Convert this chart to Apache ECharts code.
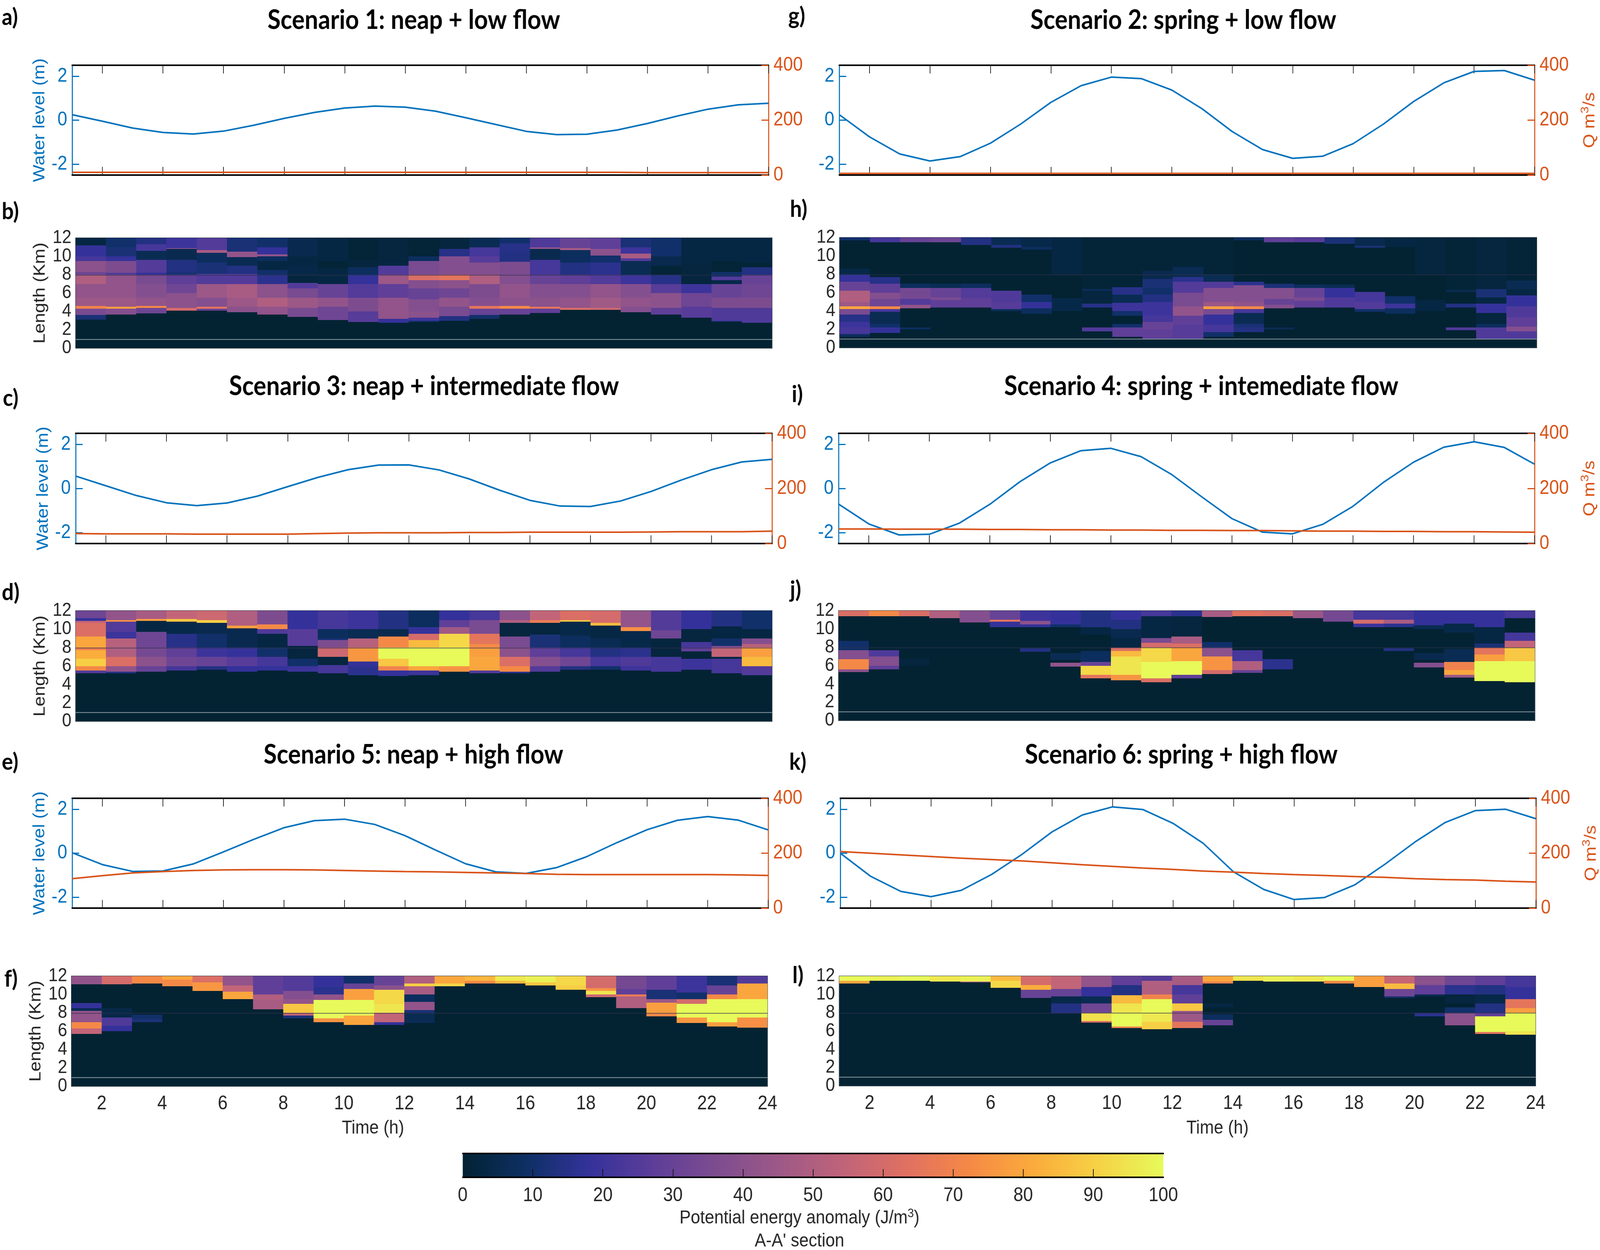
<!DOCTYPE html>
<html>
<head>
<meta charset="utf-8">
<style>
html, body { margin: 0; padding: 0; background: #fff; overflow: hidden; }
#chart { width: 4547px; height: 3199px; transform-origin: 0 0; }
</style>
<script src="https://cdn.jsdelivr.net/npm/echarts@6/dist/echarts.min.js"></script>
</head>
<body>
<div id="chart"></div>
<script>
const hours = [1,2,3,4,5,6,7,8,9,10,11,12,13,14,15,16,17,18,19,20,21,22,23,24];
const hourTicks = [2,4,6,8,10,12,14,16,18,20,22,24];
const levelTicks = [-2,0,2];
// 47 px per 2 km is tighter than echarts' overlap check allows, so two axes carry every other label
const kmTicksA = [0,4,8,12];
const kmTicksB = [2,6,10];
const cbarTicks = [10,20,30,40,50,60,70,80,90];
const thermal = ['#032333','#0d3064','#35329b','#5d3e99','#7e4d8f','#9e5987','#c16479','#e17161','#f68b45','#fbad3c','#f6d346','#e7fa5a'];

// water level (m) per hour
const level1 = [.25,-.05,-.36,-.56,-.63,-.5,-.23,.08,.35,.55,.64,.59,.41,.11,-.2,-.51,-.66,-.64,-.45,-.15,.19,.5,.7,.77];
const level2 = [.25,-.76,-1.54,-1.86,-1.66,-1.05,-.18,.81,1.57,1.96,1.89,1.37,.52,-.52,-1.34,-1.74,-1.64,-1.07,-.18,.85,1.7,2.22,2.26,1.82];
const level3 = [.56,.12,-.32,-.65,-.78,-.66,-.35,.08,.5,.85,1.06,1.07,.84,.43,-.08,-.54,-.8,-.82,-.57,-.14,.38,.85,1.2,1.32];
const level4 = [-.71,-1.61,-2.11,-2.08,-1.57,-.72,.31,1.16,1.71,1.82,1.44,.64,-.38,-1.37,-1.98,-2.06,-1.63,-.81,.27,1.19,1.87,2.12,1.86,1.1];
const level5 = [.02,-.52,-.83,-.81,-.49,.06,.63,1.16,1.48,1.55,1.31,.8,.15,-.48,-.85,-.92,-.66,-.16,.48,1.07,1.5,1.67,1.51,1.06];
const level6 = [0,-1.05,-1.74,-1.98,-1.69,-.97,-.06,.97,1.74,2.11,1.99,1.36,.45,-.85,-1.65,-2.11,-2.02,-1.45,-.51,.51,1.4,1.94,2,1.57];

// river discharge (m3/s) per hour
const flow1 = [10,10,10,10,10,10,10,10,10,10,10,10,10,10,10,10,10,10,10,9,9,9,9,9];
const flow2 = [6,6,6,6,6,6,6,6,6,6,6,6,6,6,6,6,6,6,6,6,6,6,6,6];
const flow3 = [36,35,35,35,34,34,34,34,36,38,39,39,39,40,40,41,41,41,41,42,43,43,43,45];
const flow4 = [53,53,52,52,52,51,51,50,50,49,49,48,48,47,47,46,45,45,44,44,43,43,42,41];
const flow5 = [107,118,128,133,137,139,140,140,139,137,135,133,132,130,128,126,123,122,122,122,122,122,121,119];
const flow6 = [206,200,194,188,182,177,172,165,158,152,146,141,135,131,126,122,119,115,112,107,104,102,98,95];

// potential energy anomaly, one list per hour column, read from 12 km downwards:
// [lower km of band, value, lower km of band, value, ...]
const pe1 = [
  [11.2,3,10,18,9.5,22,8.3,40,8,32,7,50,5.5,42,4.6,45,4.3,70,3.6,35,3.1,12],
  [11,10,10,12,9.5,18,8.2,36,8,25,7,42,5.5,42,4.5,45,4.3,78,3.65,38],
  [11.3,14,10.6,22,9.6,6,8.2,25,8,18,7,35,5.5,38,4.6,42,4.4,72,3.8,32],
  [10.9,20,10.8,40,9.6,5,8.3,14,8,12,7,28,6,32,5,40,4.4,40,4.1,60],
  [10.7,25,10.4,48,9.3,8,8.1,12,7,25,5.5,45,4.5,38,4.3,65,4.1,30],
  [10.5,12,9.9,42,9,6,8.1,14,7,25,5.5,48,4.5,45,3.9,40],
  [11,10,10.2,18,10,42,9.5,8,8.5,3,8,10,7,16,5.5,40,4.5,50,3.65,42],
  [10,5,9,3,8,4,7.1,2,6.5,25,5.5,35,4.4,45,3.4,35],
  [9.5,3,8.7,1,7,3,5.5,30,4.5,42,3.05,32],
  [9.6,1,8.8,2,8,8,7,18,5.5,25,4,36,2.85,26],
  [9.3,2,9,3,8,25,7,45,5.5,28,4.4,42,3.2,42,2.75,18],
  [10,1,9.5,8,8,35,7.4,62,6.5,38,5.3,30,4,38,3.3,40,3,20,2.85,10],
  [10.8,2,10,15,8,38,7.4,65,6.5,40,5.5,32,4.5,42,3.5,35,3,14],
  [11,6,10,22,9.3,26,8,38,7,50,5.5,36,4.6,38,4.3,65,3.6,30,3.2,10],
  [11.4,10,10.5,15,9.4,14,8,36,7,38,5.5,42,4.6,40,4.3,72,3.65,30],
  [11,24,10.8,42,9.6,5,8,22,7,30,5.5,38,4.5,40,4.3,65,3.85,28],
  [10.9,30,10.7,48,9.3,8,8,14,7,28,5.5,38,4.4,42,4.15,62],
  [10.8,28,10.1,40,9.3,10,8,16,7,25,5.5,42,4.4,46,4.15,58],
  [11,12,10.3,20,9.8,48,9.5,25,8,6,7,20,5.5,38,4.5,42,3.9,38],
  [10,10,9,5,8,1,7,15,6,26,4.4,40,3.65,28],
  [9.2,3,7,2,6,20,4.5,32,3.3,26],
  [9.5,3,8.3,1,7.8,10,7.4,25,7,4,5.5,30,4.4,36,3,24,2.9,15],
  [9.3,3,8.8,1,8,14,7,30,5.5,32,4.4,36,2.75,24]
];
const pe2 = [
  [11.7,10,8.6,0,8,4,7.2,18,6.2,30,5,50,4.5,45,4.2,80,3.6,35,2.8,15,2.2,20,1.5,22,1.2,8],
  [11.5,22,7.7,0,7,15,6,28,5.3,38,4.5,32,4.2,72,3.9,22,2.6,6,2.2,10,1.6,18],
  [11.5,30,7,0,6.5,8,5.3,34,4.7,25,4.3,42,2.2,0,2,8],
  [11.5,32,7,0,6.5,6,5.5,30,5.2,35,4.4,28],
  [11.2,14,7,0,6.5,8,5.4,25,4.4,28],
  [11.2,6,10.9,14,6.2,0,5,24,4.2,26,4,8],
  [11,4,10.7,8,5.8,0,5,10,4.3,18,3.7,8],
  [8,3,5.4,0,4,4],
  [6.4,1,6.2,8,4.8,2,4.4,15,2.2,0,1.8,24],
  [6.6,1,5.8,15,4.9,6,4,20,3.5,10,2.6,0,2.2,10,1.2,28],
  [8.4,1,7.5,5,6.5,12,5.8,10,5,14,3.5,20,2.8,22,2,30,1,28],
  [8.8,1,7.7,6,7.2,16,6,25,4.5,35,3.5,42,2.5,28,1,26],
  [8,1,7.2,6,6.5,25,5,38,4.5,45,4.2,78,3.6,35,2.5,18,1.7,22,1.2,10],
  [11.7,8,7.2,0,6.8,16,5,38,4.5,42,4.2,72,3.8,22,2.6,6,2.2,12,1.7,14],
  [11.5,28,7,0,6.5,12,5.3,38,4.7,30,4.3,38,2.2,0,2,6],
  [11.5,26,6.9,0,6.5,8,5.5,30,5.1,35,4.4,28],
  [11.3,12,6.9,0,6.5,6,5.5,18,4.4,24],
  [11.1,5,10.9,12,6.1,0,5,22,4.2,25,3.9,10],
  [11,3,5.6,0,4.8,10,4.3,20,3.7,8],
  [8,2,5.2,0,4,3],
  [6.3,1,6.1,6,4.8,0,4.4,14,2.2,0,1.9,24],
  [6.4,2,5.5,12,4.8,3,3.8,18,2.6,2,2.2,8,1,24],
  [7.3,1,6.4,6,5.7,3,4.5,18,3.3,24,2.3,28,1.8,38,1,24]
];
const pe3 = [
  [11.2,32,10.9,18,10.7,55,9.2,62,8,80,7.7,70,6.8,82,6,90,5.5,72,5.2,25],
  [11,42,10.8,75,9.7,25,9,20,8,52,7,50,6,62,5.4,42,5.2,15],
  [11.1,48,10.9,78,9.7,3,8,32,7,34,6,40,5.4,30],
  [11.1,55,10.8,88,9.5,4,8,15,7,28,6,32,5.5,22],
  [11,58,10.7,90,9.5,5,8,10,7,20,6,30,5.6,14],
  [10.4,50,10.1,78,8,5,7,18,6,26,5.4,18],
  [10.5,36,10,72,9.5,24,8,3,7,10,6,22,5.5,18],
  [10,18,8.2,26,6.8,2,6,10,5.4,20],
  [10,22,9,8,8.8,12,8,36,7,58,6.1,2,5.2,22],
  [10,20,9,6,8,52,6.5,76,6,18,5,16],
  [10,14,9.2,5,8,72,6.8,100,6,88,5.5,70,4.9,18],
  [10.2,8,9.5,18,8.8,60,8,85,6,100,5.5,80,5,20],
  [11,18,10.2,28,9.5,46,8,92,6,100,5.4,75],
  [11,22,9.5,35,8.4,65,8,72,7,78,5.5,80,5.2,25],
  [11,40,10.7,50,9.2,2,8,35,7,40,6,62,5.4,72,5.2,15],
  [11,55,10.7,68,9.4,2,8,12,7,28,6,38,5.4,25],
  [11,62,10.8,88,9.3,4,8,8,7,22,6,32,5.6,14],
  [10.7,60,10.4,85,9,3,8,6,7,14,6,22,5.6,10],
  [10.2,42,9.8,74,8,4,7,16,6,24,5.5,20],
  [9.9,25,9,32,7,2,6,22,5.4,22],
  [10,18,8.6,2,8,22,7.6,28,6.8,1,5.6,20],
  [10.3,14,9,3,8.2,10,8,35,7,55,6.8,3,5.2,22],
  [10,10,9,3,8.4,38,8,52,7,78,6,85,5,25]
];
const pe4 = [
  [11.4,62,8.7,0,7.7,10,6.7,38,5.6,72,5.3,40],
  [11.4,72,7.7,0,7,24,6,38,5.6,28],
  [11.4,62,6.8,0,6,2],
  [11.2,50],
  [10.7,38],
  [11,30,10.8,65,10.2,18],
  [10.9,20,10.5,40,10.2,18,7.9,0,7.5,14],
  [10.5,18,10.2,10,7.4,0,6.6,6,6.3,0,5.9,42],
  [10.2,14,9.4,3,7.6,0,6.4,8,6,30,5,92,4.6,65],
  [11,18,10,14,9,5,8,3,7.6,62,7,85,5,95,4.4,75],
  [11.4,22,9,3,8.5,35,8,60,6.4,92,4.6,100,4.2,62],
  [11.4,16,9.2,2,8.4,48,8,62,6.5,80,5,100,4.6,28],
  [11.3,48,8.6,0,8,10,7,40,5.5,75,5.1,60],
  [11.4,64,7.7,0,6.5,22,5.5,50,5.2,30],
  [11.4,62,6.7,0,5.6,16],
  [11.2,44],
  [10.8,34],
  [11,22,10.6,60,10.2,20],
  [11,22,10.6,48,10.2,16,7.9,0,7.6,14],
  [10.4,18,10,6,7.4,0,6.6,5,6.3,0,5.8,38],
  [10.6,18,9.6,4,7.8,0,6.4,6,5.5,70,5,80,4.7,45],
  [10.2,18,8.4,3,8,12,7.2,65,6.5,78,4.3,100],
  [11.2,22,9.6,0,8.7,22,8,55,6.5,88,4.2,100]
];
const pe5 = [
  [11.1,42,9.07,0,8.5,18,8.2,6,7,42,6.3,72,5.7,55],
  [11.1,60,8.5,0,7.5,4,6.6,24,6,18],
  [11.2,72,7.8,0,7.3,10,7,12],
  [11.6,80,10.9,72],
  [11.3,62,10.4,76],
  [11,42,10.3,55,9.5,80],
  [10,28,9.4,50,8.4,48],
  [10.4,25,9.5,38,9,42,8,88,7.7,55,7.4,12],
  [10.8,18,10,16,9.4,42,7.4,100,7,75],
  [11.2,10,10.6,30,9.4,78,7.7,100,6.7,80],
  [11,30,10.5,40,9,92,8,95,7,55,6.7,18],
  [11.2,50,10.9,90,10,48,9.2,8,8.3,42,8,12,6.9,6],
  [11.2,80,10.9,92],
  [11.5,84,11.2,72],
  [11.5,96,11.2,85],
  [11.3,98,11,88],
  [11,92,10.5,90],
  [10.7,60,10.4,75,10,95,9.7,58],
  [10.6,34,10,28,9.8,68,8.5,50],
  [10.5,28,9.5,12,9.1,45,8,78,7.6,72],
  [10.2,20,9.5,10,9,60,7.5,100,6.9,76],
  [11,12,10,30,9.5,72,7,100,6.5,78],
  [11.2,25,9.5,80,7.5,100,6.4,74]
];
const pe6 = [
  [11.5,100,11.2,80],
  [11.5,98],
  [11.5,100],
  [11.4,96],
  [11.4,98,11.3,50],
  [11.5,85,10.7,92],
  [11,60,10.5,82,9.6,30],
  [10.6,55,9.8,30,9,4,7.9,14],
  [10.8,42,9.8,18,9,6,8,32,7.1,94,6.9,62],
  [11,28,9.9,14,9,85,8,95,6.5,100,6.3,70],
  [11.5,25,10,50,9.5,70,8,100,7,96,6.2,90],
  [11,48,10,22,9,28,8.2,88,7,45,6.3,65],
  [11.4,80,11.2,70,9,0,8.6,3,7.8,0,7.2,8,6.6,30],
  [11.5,95],
  [11.4,98],
  [11.4,96],
  [11.5,100,11.2,72],
  [10.8,78],
  [11.2,56,10.6,85,9.8,32,9.6,10],
  [11,40,10,28,9.8,5,8,0,7.6,16],
  [11,32,10,16,9,2,8.6,0,8,10,6.6,40],
  [11,28,10,14,9,4,8,14,7.6,28,5.9,100,5.7,65],
  [10.8,22,9.5,18,8.5,65,8,78,6,100,5.6,95]
];

const BLUE = '#0072BD';
const ORANGE = '#D95319';
const INK = '#262626';
const AXIS_FONT = 'Liberation Sans';
const TITLE_FONT = 'Lato';
const TICK_SIZE = 50;

const grids = [], xAxes = [], yAxes = [], series = [], heatIndex = [];

function bandsOf(columns) {
    const rows = [];
    columns.forEach((col, i) => {
        let top = 12;
        for (let k = 0; k < col.length; k += 2) {
            rows.push([hours[i], top, col[k], col[k + 1]]);
            top = col[k];
        }
    });
    return rows;
}

function renderBand(params, api) {
    const a = api.coord([api.value(0), api.value(1)]);
    const b = api.coord([api.value(0) + 1, api.value(2)]);
    return {
        type: 'rect',
        shape: { x: Math.round(a[0]), y: Math.round(a[1]), width: Math.round(b[0]) - Math.round(a[0]), height: Math.round(b[1]) - Math.round(a[1]) },
        style: { fill: api.visual('color') }
    };
}

function linePanel(level, flow, box, showWater, showFlow) {
    const g = grids.length;
    grids.push({ left: box[0], top: box[1], width: box[2], height: box[3] });
    const frame = (position) => ({
        type: 'value', gridIndex: g, position, min: 1, max: 24,
        axisLine: { onZero: false, lineStyle: { color: '#000', width: 4 } },
        axisTick: { inside: true, length: 21, customValues: hourTicks, lineStyle: { color: '#222', width: 2 } },
        axisLabel: { show: false }, splitLine: { show: false }
    });
    const xBottom = xAxes.length;
    xAxes.push(frame('bottom'), frame('top'));
    const yLeft = yAxes.length;
    yAxes.push({
        type: 'value', gridIndex: g, position: 'left', min: -2.5, max: 2.5,
        name: showWater ? 'Water level (m)' : '', nameLocation: 'middle', nameGap: 68,
        nameTextStyle: { color: BLUE, fontFamily: AXIS_FONT, fontSize: 47 },
        axisLine: { lineStyle: { color: BLUE, width: 3 } },
        axisTick: { inside: true, length: 20, customValues: levelTicks, lineStyle: { color: BLUE, width: 3 } },
        axisLabel: { customValues: levelTicks, color: BLUE, fontFamily: AXIS_FONT, fontSize: TICK_SIZE, margin: 14 },
        splitLine: { show: false }
    }, {
        type: 'value', gridIndex: g, position: 'right', min: 0, max: 400, interval: 200,
        name: showFlow ? 'Q m{sup|3}/s' : '', nameLocation: 'middle', nameGap: 128, nameRotate: 90,
        nameTextStyle: { color: ORANGE, fontFamily: AXIS_FONT, fontSize: 47,
            rich: { sup: { color: ORANGE, fontFamily: AXIS_FONT, fontSize: 32, padding: [0, 0, 26, 0] } } },
        axisLine: { lineStyle: { color: ORANGE, width: 3 } },
        axisTick: { inside: true, length: 20, lineStyle: { color: ORANGE, width: 3 } },
        axisLabel: { color: ORANGE, fontFamily: AXIS_FONT, fontSize: TICK_SIZE, margin: 14, showMinLabel: true, showMaxLabel: true },
        splitLine: { show: false }
    });
    series.push({
        type: 'line', xAxisIndex: xBottom, yAxisIndex: yLeft, showSymbol: false, silent: true, z: 3,
        lineStyle: { color: BLUE, width: 4 }, data: hours.map((h, i) => [h, level[i]])
    }, {
        type: 'line', xAxisIndex: xBottom, yAxisIndex: yLeft + 1, showSymbol: false, silent: true, z: 4,
        lineStyle: { color: ORANGE, width: 4 }, data: hours.map((h, i) => [h, flow[i]])
    });
}

function heatPanel(columns, box, showLength, showHours) {
    const g = grids.length;
    grids.push({ left: box[0], top: box[1], width: box[2], height: box[3], show: true,
        backgroundColor: thermal[0], borderColor: '#2a3a44', borderWidth: 2 });
    const xi = xAxes.length, yi = yAxes.length;
    xAxes.push({
        type: 'value', gridIndex: g, min: 1, max: 24,
        axisLine: { show: false },
        axisTick: { show: false },
        axisLabel: { show: showHours, customValues: hourTicks, color: INK, fontFamily: AXIS_FONT, fontSize: TICK_SIZE, margin: 20, showMaxLabel: true },
        splitLine: { show: false }
    });
    const kmAxis = (ticks, name) => ({
        type: 'value', gridIndex: g, position: 'left', min: 0, max: 12,
        name, nameLocation: 'middle', nameGap: 77,
        nameTextStyle: { color: INK, fontFamily: AXIS_FONT, fontSize: 47 },
        axisLine: { show: false },
        axisTick: { show: false },
        axisLabel: { customValues: ticks, color: INK, fontFamily: AXIS_FONT, fontSize: 48, margin: 12, showMinLabel: true, showMaxLabel: true },
        splitLine: { show: false }
    });
    yAxes.push(kmAxis(kmTicksA, showLength ? 'Length (Km)' : ''), kmAxis(kmTicksB, ''));
    heatIndex.push(series.length);
    series.push({
        type: 'custom', xAxisIndex: xi, yAxisIndex: yi, silent: true, z: 2,
        encode: { x: 0, y: [1, 2] }, renderItem: renderBand, data: bandsOf(columns)
    });
    [[7.95, 'rgba(45,50,75,0.7)'], [0.95, '#8a9aa2']].forEach(([km, color]) => {
        series.push({
            type: 'line', xAxisIndex: xi, yAxisIndex: yi, showSymbol: false, silent: true, z: 3,
            lineStyle: { color, width: 2 }, data: [[1, km], [24, km]]
        });
    });
}

linePanel(level1, flow1, [205, 167, 1979, 281], true, false);
heatPanel(pe1, [215, 609, 1979, 282], true, false);
linePanel(level3, flow3, [215, 1109, 1979, 282], true, false);
heatPanel(pe3, [215, 1563, 1979, 283], true, false);
linePanel(level5, flow5, [205, 2043, 1978, 281], true, false);
heatPanel(pe5, [203, 2498, 1978, 282], true, true);
linePanel(level2, flow2, [2385, 167, 1976, 281], false, true);
heatPanel(pe2, [2386, 608, 1981, 282], false, false);
linePanel(level4, flow4, [2383, 1109, 1978, 282], false, true);
heatPanel(pe4, [2383, 1563, 1979, 281], false, false);
linePanel(level6, flow6, [2388, 2043, 1977, 281], false, true);
heatPanel(pe6, [2385, 2498, 1979, 281], false, true);

// colour bar: the visualMap bar itself, with a value axis lying over it for ticks and labels
const cbarGrid = grids.length;
const cbarBox = [1315, 2952, 1991, 61];
grids.push({ left: cbarBox[0], top: cbarBox[1], width: cbarBox[2], height: cbarBox[3] });
const cbarX = xAxes.length;
xAxes.push({
    type: 'value', gridIndex: cbarGrid, min: 0, max: 100, interval: 10, z: 10,
    axisLine: { onZero: false, lineStyle: { color: '#000', width: 4 } },
    axisTick: { inside: true, length: 21, customValues: cbarTicks, lineStyle: { color: '#111', width: 2 } },
    axisLabel: { color: INK, fontFamily: AXIS_FONT, fontSize: TICK_SIZE, margin: 22 },
    splitLine: { show: false }
}, {
    type: 'value', gridIndex: cbarGrid, position: 'top', min: 0, max: 100, z: 10,
    axisLine: { onZero: false, lineStyle: { color: '#000', width: 4 } },
    axisTick: { show: false }, axisLabel: { show: false }, splitLine: { show: false }
});
yAxes.push({ type: 'value', gridIndex: cbarGrid, min: 0, max: 1, show: false });
series.push({ type: 'line', xAxisIndex: cbarX, yAxisIndex: yAxes.length - 1, data: [], silent: true });

function label(text, x, y, font, extra) {
    return { type: 'text', x, y, z: 20, silent: true,
        style: Object.assign({ text, font, fill: '#000', textAlign: 'center', align: 'center', textVerticalAlign: 'middle', verticalAlign: 'middle' }, extra || {}) };
}
const titleFont = 'bold 68px ' + TITLE_FONT;
const letterFont = 'bold 60px ' + TITLE_FONT;
const axisFont = '48px "' + AXIS_FONT + '"';
const leftAlign = { textAlign: 'left', align: 'left' };

const texts = [
    label('Scenario 1: neap + low flow', 1176, 52, titleFont),
    label('Scenario 2: spring + low flow', 3363, 52, titleFont),
    label('Scenario 3: neap + intermediate flow', 1205, 989, titleFont),
    label('Scenario 4: spring + intemediate flow', 3414, 989, titleFont),
    label('Scenario 5: neap + high flow', 1175, 1932, titleFont),
    label('Scenario 6: spring + high flow', 3357, 1932, titleFont),
    label('a)', 5, 45, letterFont, leftAlign),
    label('b)', 5, 542, letterFont, leftAlign),
    label('c)', 8, 1020, letterFont, leftAlign),
    label('d)', 5, 1517, letterFont, leftAlign),
    label('e)', 5, 1951, letterFont, leftAlign),
    label('f)', 12, 2506, letterFont, leftAlign),
    label('g)', 2240, 42, letterFont, leftAlign),
    label('h)', 2245, 536, letterFont, leftAlign),
    label('i)', 2250, 1010, letterFont, leftAlign),
    label('j)', 2245, 1510, letterFont, leftAlign),
    label('k)', 2243, 1951, letterFont, leftAlign),
    label('l)', 2252, 2497, letterFont, leftAlign),
    label('Time (h)', 1060, 2888, axisFont, { fill: INK }),
    label('Time (h)', 3460, 2888, axisFont, { fill: INK }),
    label('Potential energy anomaly (J/m{sup|3})', 2272, 3118, axisFont, {
        fill: INK, rich: { sup: { font: '32px "' + AXIS_FONT + '"', fill: INK, padding: [0, 0, 24, 0] } } }),
    label("A-A' section", 2272, 3177, axisFont, { fill: INK })
];

// the layout above is in reference pixels; stretch it to fill the window the page really gets
const chartDom = document.getElementById('chart');
chartDom.style.transform = 'scale(' + (window.innerWidth / 4547) + ',' + (window.innerHeight / 3199) + ')';

const chart = echarts.init(chartDom, null, { width: 4547, height: 3199 });
chart.setOption({
    animation: false,
    backgroundColor: '#fff',
    tooltip: { show: false },
    grid: grids,
    xAxis: xAxes,
    yAxis: yAxes,
    series,
    visualMap: {
        type: 'continuous', seriesIndex: heatIndex, dimension: 3, min: 0, max: 100,
        inRange: { color: thermal }, orient: 'horizontal', calculable: false, hoverLink: false,
        left: cbarBox[0], top: cbarBox[1], itemWidth: cbarBox[3], itemHeight: cbarBox[2], padding: 0, text: null,
        textStyle: { color: 'rgba(0,0,0,0)', fontSize: 1 }
    },
    graphic: { elements: texts }
});
</script>
</body>
</html>
